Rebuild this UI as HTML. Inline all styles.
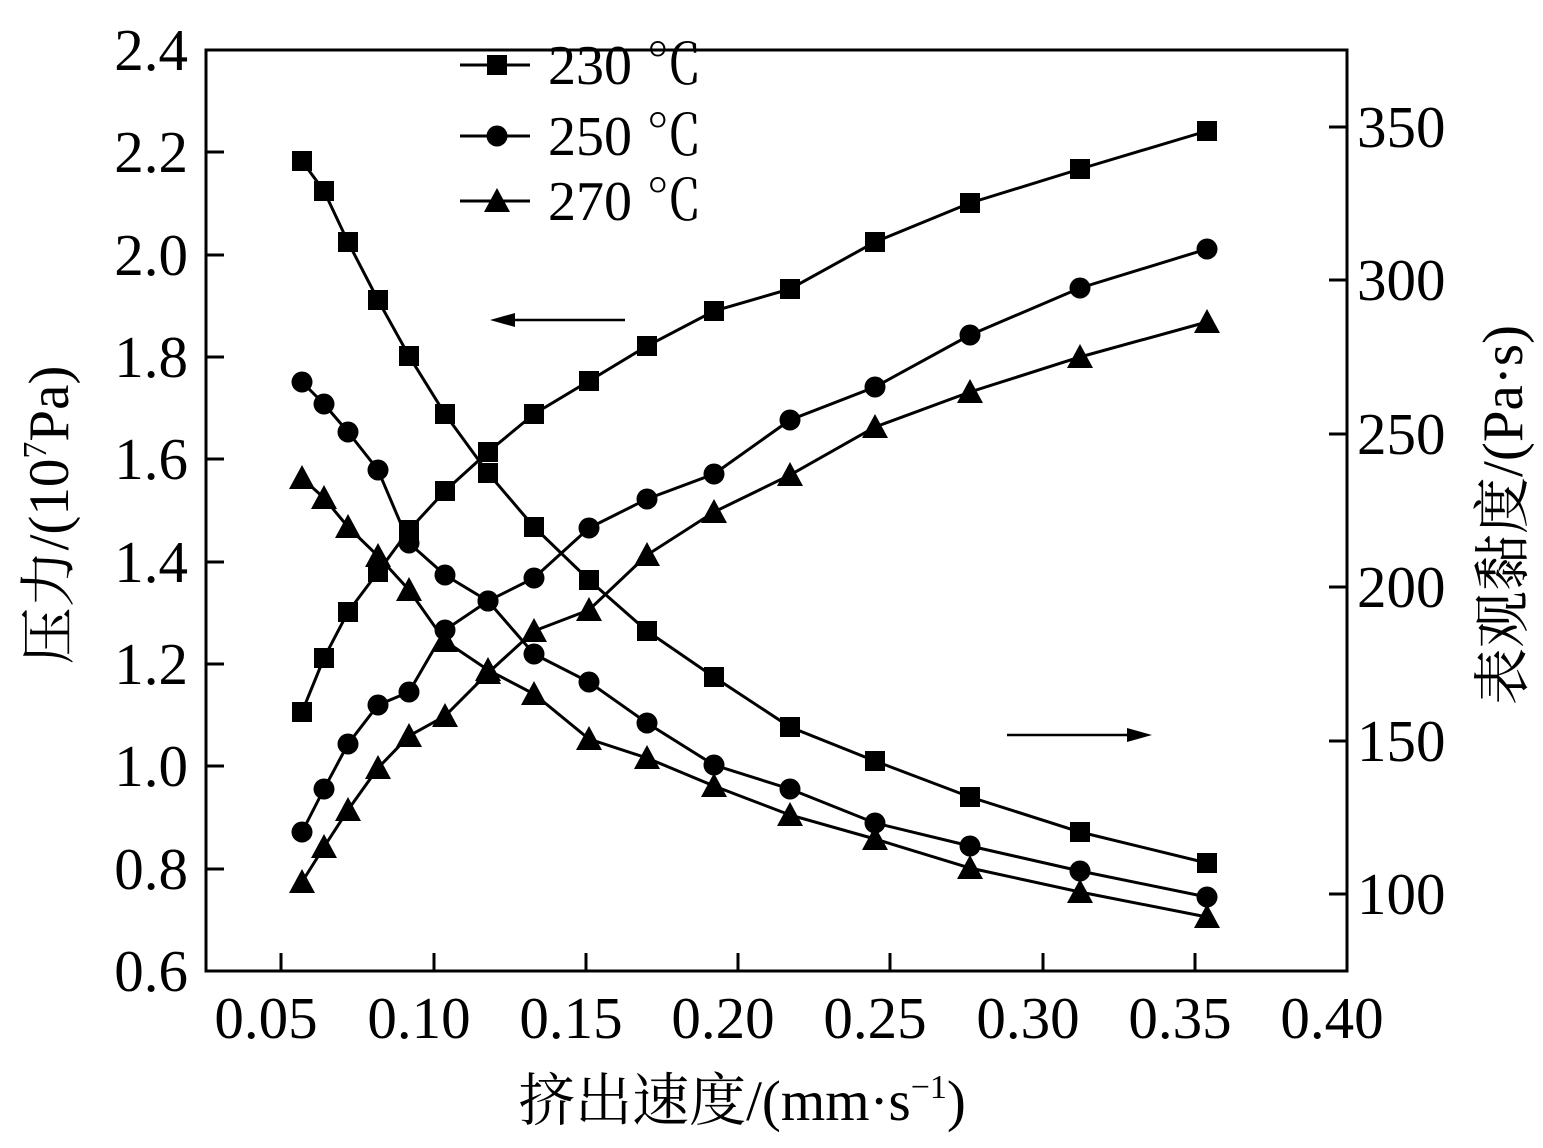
<!DOCTYPE html>
<html><head><meta charset="utf-8"><style>
html,body{margin:0;padding:0;background:#fff;}
svg{display:block;}
text{font-family:"Liberation Serif","Noto Serif CJK SC","Noto Sans CJK SC",serif;fill:#000;}
</style></head><body>
<svg width="1543" height="1148" viewBox="0 0 1543 1148" xmlns="http://www.w3.org/2000/svg">
<defs>
<g id="sq"><rect x="-10" y="-10" width="20" height="20" fill="#000"/></g>
<g id="ci"><circle r="10.5" fill="#000"/></g>
<g id="tr"><polygon points="0,-13 13,11 -13,11" fill="#000"/></g>
</defs>
<rect x="206" y="50" width="1141" height="921" fill="none" stroke="#000" stroke-width="3"/>
<g stroke="#000" stroke-width="3">
<line x1="206" y1="152" x2="224" y2="152"/><line x1="206" y1="255" x2="224" y2="255"/>
<line x1="206" y1="357" x2="224" y2="357"/><line x1="206" y1="459" x2="224" y2="459"/>
<line x1="206" y1="562" x2="224" y2="562"/><line x1="206" y1="664" x2="224" y2="664"/>
<line x1="206" y1="766" x2="224" y2="766"/><line x1="206" y1="869" x2="224" y2="869"/>
<line x1="281" y1="971" x2="281" y2="953"/><line x1="434" y1="971" x2="434" y2="953"/>
<line x1="586" y1="971" x2="586" y2="953"/><line x1="738" y1="971" x2="738" y2="953"/>
<line x1="890" y1="971" x2="890" y2="953"/><line x1="1043" y1="971" x2="1043" y2="953"/>
<line x1="1195" y1="971" x2="1195" y2="953"/>
<line x1="1347" y1="127" x2="1329" y2="127"/><line x1="1347" y1="280" x2="1329" y2="280"/>
<line x1="1347" y1="434" x2="1329" y2="434"/><line x1="1347" y1="587" x2="1329" y2="587"/>
<line x1="1347" y1="741" x2="1329" y2="741"/><line x1="1347" y1="894" x2="1329" y2="894"/>
</g>
<g font-size="59" text-anchor="end">
<text x="188" y="70">2.4</text><text x="188" y="172">2.2</text><text x="188" y="275">2.0</text>
<text x="188" y="377">1.8</text><text x="188" y="479">1.6</text><text x="188" y="582">1.4</text>
<text x="188" y="684">1.2</text><text x="188" y="786">1.0</text><text x="188" y="889">0.8</text>
<text x="188" y="991">0.6</text>
</g>
<g font-size="59" text-anchor="start">
<text x="1357" y="147">350</text><text x="1357" y="300">300</text><text x="1357" y="454">250</text>
<text x="1357" y="607">200</text><text x="1357" y="761">150</text><text x="1357" y="914">100</text>
</g>
<g font-size="59" text-anchor="middle">
<text x="266" y="1038">0.05</text><text x="419" y="1038">0.10</text><text x="571" y="1038">0.15</text>
<text x="723" y="1038">0.20</text><text x="875" y="1038">0.25</text><text x="1028" y="1038">0.30</text>
<text x="1180" y="1038">0.35</text><text x="1332" y="1038">0.40</text>
</g>
<text x="742" y="1120" font-size="57" text-anchor="middle">挤出速度/(mm·s<tspan font-size="34" dy="-22">−1</tspan><tspan dy="22">)</tspan></text>
<text transform="translate(68,515) rotate(-90)" font-size="57" text-anchor="middle">压力/(10<tspan font-size="34" dy="-22">7</tspan><tspan dy="22">Pa)</tspan></text>
<text transform="translate(1522,515) rotate(-90)" font-size="57" text-anchor="middle">表观黏度/(Pa·s)</text>
<g fill="none" stroke="#000" stroke-width="3">
<polyline points="302,712 324,658 348,612 378,572 409,530 445,491 488,452 534,414 589,381 647,346 714,311 790,289 875,242 970,203 1080,169 1207,131"/>
<polyline points="302,161 324,191 348,242 378,300 409,356 445,414 488,473 534,527 589,580 647,631 714,677 790,727 875,761 970,797 1080,832 1207,863"/>
<polyline points="302,832 324,789 348,744 378,705 409,692 445,630 488,601 534,578 589,528 647,499 714,474 790,420 875,387 970,335 1080,288 1207,249"/>
<polyline points="302,382 324,404 348,432 378,470 409,543 445,575 488,601 534,654 589,682 647,723 714,765 790,789 875,823 970,846 1080,871 1207,897"/>
<polyline points="302,882 324,847 348,810 378,768 409,736 445,716 488,673 534,631 589,610 647,555 714,512 790,475 875,427 970,392 1080,357 1207,322"/>
<polyline points="302,478 324,498 348,527 378,556 409,590 445,641 488,670 534,694 589,739 647,758 714,786 790,815 875,839 970,868 1080,892 1207,917"/>
<line x1="460" y1="65" x2="530" y2="65"/><line x1="460" y1="136" x2="530" y2="136"/><line x1="460" y1="201" x2="530" y2="201"/>
<line x1="625" y1="320" x2="505" y2="320" stroke-width="2.5"/>
<line x1="1007" y1="735" x2="1135" y2="735" stroke-width="2.5"/>
</g>
<polygon points="490,320 515,313 515,327" fill="#000"/>
<polygon points="1152,735 1127,728 1127,742" fill="#000"/>
<g>
<use href="#sq" x="302" y="712"/><use href="#sq" x="324" y="658"/><use href="#sq" x="348" y="612"/><use href="#sq" x="378" y="572"/><use href="#sq" x="409" y="530"/><use href="#sq" x="445" y="491"/><use href="#sq" x="488" y="452"/><use href="#sq" x="534" y="414"/><use href="#sq" x="589" y="381"/><use href="#sq" x="647" y="346"/><use href="#sq" x="714" y="311"/><use href="#sq" x="790" y="289"/><use href="#sq" x="875" y="242"/><use href="#sq" x="970" y="203"/><use href="#sq" x="1080" y="169"/><use href="#sq" x="1207" y="131"/>
<use href="#sq" x="302" y="161"/><use href="#sq" x="324" y="191"/><use href="#sq" x="348" y="242"/><use href="#sq" x="378" y="300"/><use href="#sq" x="409" y="356"/><use href="#sq" x="445" y="414"/><use href="#sq" x="488" y="473"/><use href="#sq" x="534" y="527"/><use href="#sq" x="589" y="580"/><use href="#sq" x="647" y="631"/><use href="#sq" x="714" y="677"/><use href="#sq" x="790" y="727"/><use href="#sq" x="875" y="761"/><use href="#sq" x="970" y="797"/><use href="#sq" x="1080" y="832"/><use href="#sq" x="1207" y="863"/>
<use href="#ci" x="302" y="832"/><use href="#ci" x="324" y="789"/><use href="#ci" x="348" y="744"/><use href="#ci" x="378" y="705"/><use href="#ci" x="409" y="692"/><use href="#ci" x="445" y="630"/><use href="#ci" x="488" y="601"/><use href="#ci" x="534" y="578"/><use href="#ci" x="589" y="528"/><use href="#ci" x="647" y="499"/><use href="#ci" x="714" y="474"/><use href="#ci" x="790" y="420"/><use href="#ci" x="875" y="387"/><use href="#ci" x="970" y="335"/><use href="#ci" x="1080" y="288"/><use href="#ci" x="1207" y="249"/>
<use href="#ci" x="302" y="382"/><use href="#ci" x="324" y="404"/><use href="#ci" x="348" y="432"/><use href="#ci" x="378" y="470"/><use href="#ci" x="409" y="543"/><use href="#ci" x="445" y="575"/><use href="#ci" x="488" y="601"/><use href="#ci" x="534" y="654"/><use href="#ci" x="589" y="682"/><use href="#ci" x="647" y="723"/><use href="#ci" x="714" y="765"/><use href="#ci" x="790" y="789"/><use href="#ci" x="875" y="823"/><use href="#ci" x="970" y="846"/><use href="#ci" x="1080" y="871"/><use href="#ci" x="1207" y="897"/>
<use href="#tr" x="302" y="882"/><use href="#tr" x="324" y="847"/><use href="#tr" x="348" y="810"/><use href="#tr" x="378" y="768"/><use href="#tr" x="409" y="736"/><use href="#tr" x="445" y="716"/><use href="#tr" x="488" y="673"/><use href="#tr" x="534" y="631"/><use href="#tr" x="589" y="610"/><use href="#tr" x="647" y="555"/><use href="#tr" x="714" y="512"/><use href="#tr" x="790" y="475"/><use href="#tr" x="875" y="427"/><use href="#tr" x="970" y="392"/><use href="#tr" x="1080" y="357"/><use href="#tr" x="1207" y="322"/>
<use href="#tr" x="302" y="478"/><use href="#tr" x="324" y="498"/><use href="#tr" x="348" y="527"/><use href="#tr" x="378" y="556"/><use href="#tr" x="409" y="590"/><use href="#tr" x="445" y="641"/><use href="#tr" x="488" y="670"/><use href="#tr" x="534" y="694"/><use href="#tr" x="589" y="739"/><use href="#tr" x="647" y="758"/><use href="#tr" x="714" y="786"/><use href="#tr" x="790" y="815"/><use href="#tr" x="875" y="839"/><use href="#tr" x="970" y="868"/><use href="#tr" x="1080" y="892"/><use href="#tr" x="1207" y="917"/>
<use href="#sq" x="497" y="65"/><use href="#ci" x="497" y="136"/><use href="#tr" x="497" y="201"/>
</g>
<g font-size="56">
<text x="548" y="84">230 ℃</text><text x="548" y="155">250 ℃</text><text x="548" y="220">270 ℃</text>
</g>
</svg>
</body></html>
